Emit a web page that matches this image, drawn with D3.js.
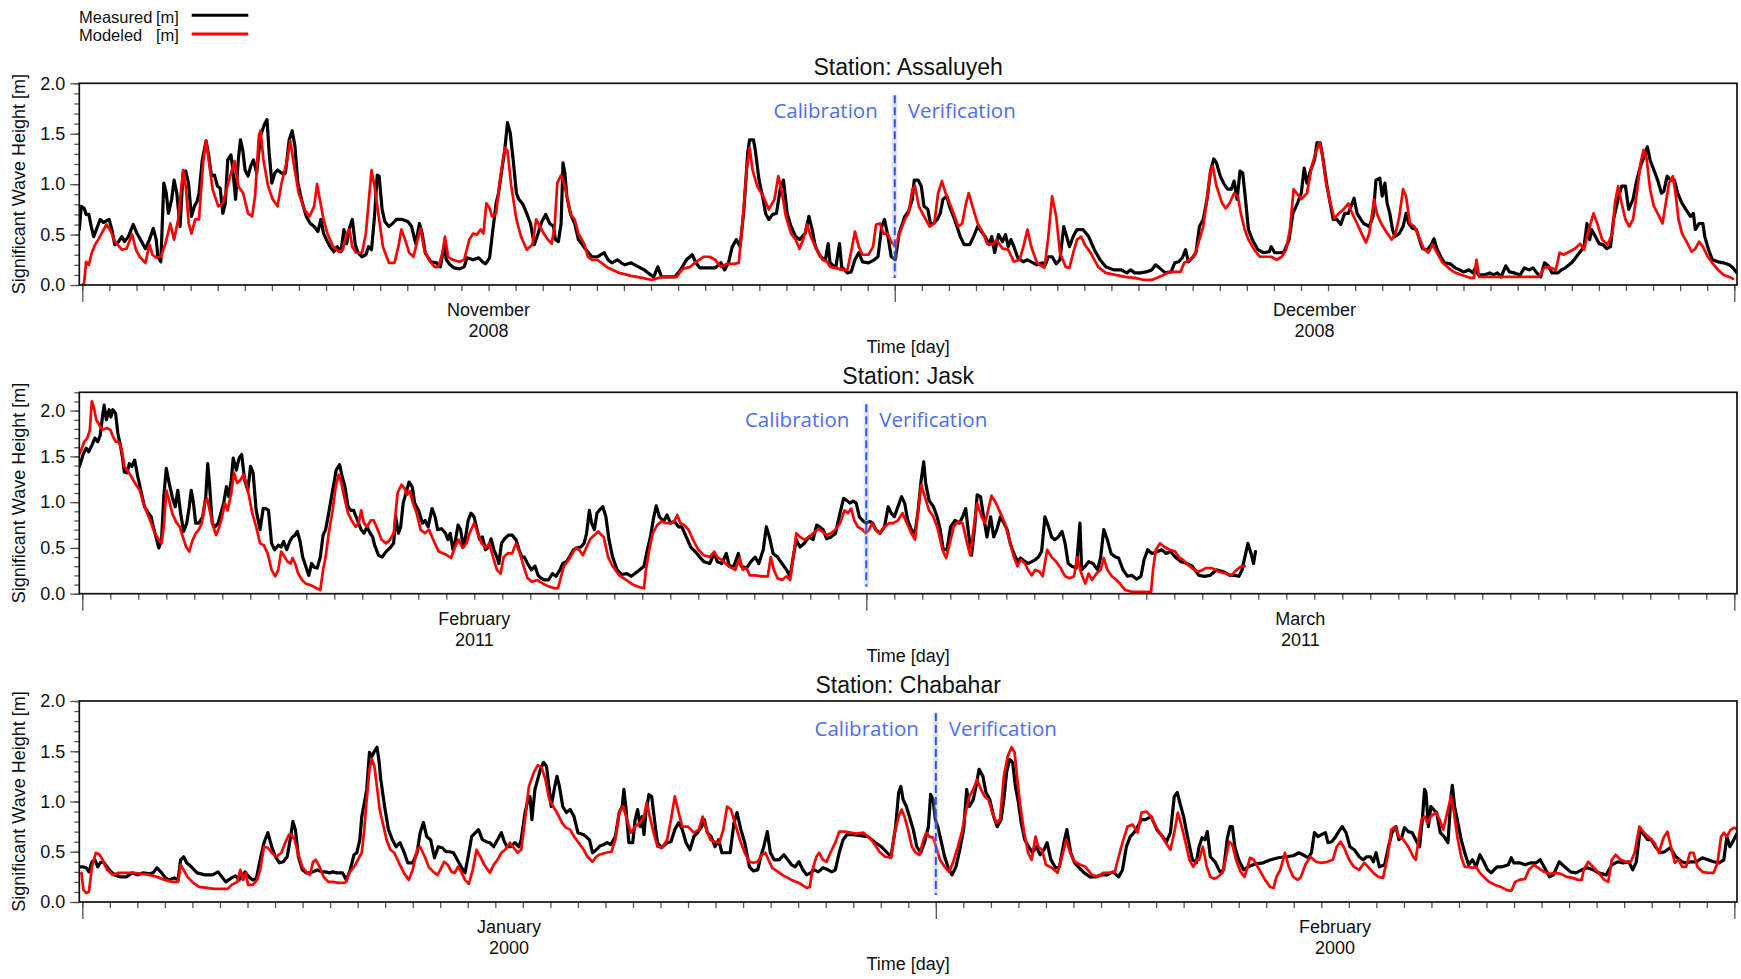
<!DOCTYPE html>
<html>
<head>
<meta charset="utf-8">
<script src="https://cdn.jsdelivr.net/npm/d3@7"></script>
<style>
  html, body { margin: 0; padding: 0; background: #fff; }
  svg { display: block; }
  text { font-family: "Liberation Sans", Arial, sans-serif; fill: #111; }
</style>
</head>
<body>
<svg id="chart" width="1741" height="979"></svg>
<script>
// Significant wave height series: [day offset from series start, Hs in metres]

const assaluyehMeasured = [
[-0.11,0.55],[-0.04,0.78],[0.07,0.76],[0.14,0.70],[0.24,0.70],[0.33,0.58],[0.42,0.48],[0.52,0.55],[0.66,0.65],[0.78,0.62],[0.99,0.65],[1.09,0.55],[1.20,0.40],[1.34,0.43],[1.46,0.48],[1.56,0.43],[1.70,0.48],[1.88,0.60],[2.02,0.51],[2.19,0.43],[2.33,0.36],[2.48,0.45],[2.62,0.56],[2.73,0.45],[2.79,0.28],[2.90,0.23],[3.01,1.01],[3.10,0.91],[3.18,0.71],[3.30,0.85],[3.39,1.04],[3.49,0.91],[3.61,0.58],[3.72,1.11],[3.82,1.13],[3.92,1.01],[4.03,0.68],[4.14,0.78],[4.24,0.83],[4.31,0.91],[4.43,1.24],[4.57,1.43],[4.67,1.28],[4.77,1.08],[4.88,1.09],[4.99,0.98],[5.09,0.96],[5.19,0.71],[5.28,0.81],[5.37,1.24],[5.49,1.29],[5.56,1.14],[5.66,0.85],[5.76,1.24],[5.84,1.44],[5.93,1.33],[6.01,1.14],[6.12,1.08],[6.22,1.18],[6.32,1.24],[6.44,1.11],[6.58,1.48],[6.72,1.59],[6.82,1.64],[6.90,1.31],[7.00,1.01],[7.11,1.11],[7.21,1.14],[7.35,1.11],[7.50,1.11],[7.64,1.44],[7.75,1.53],[7.85,1.38],[7.96,1.01],[8.13,0.81],[8.27,0.68],[8.42,0.61],[8.56,0.58],[8.70,0.53],[8.81,0.65],[8.91,0.51],[9.05,0.43],[9.15,0.38],[9.29,0.33],[9.41,0.38],[9.55,0.33],[9.66,0.55],[9.76,0.41],[9.86,0.56],[9.97,0.65],[10.08,0.40],[10.18,0.32],[10.33,0.28],[10.47,0.30],[10.57,0.38],[10.68,0.35],[10.79,0.68],[10.89,1.09],[10.96,1.08],[11.07,0.75],[11.17,0.63],[11.32,0.58],[11.46,0.61],[11.60,0.65],[11.81,0.65],[12.02,0.63],[12.16,0.58],[12.31,0.41],[12.45,0.61],[12.55,0.51],[12.66,0.32],[12.87,0.23],[13.08,0.22],[13.22,0.18],[13.37,0.40],[13.44,0.25],[13.58,0.20],[13.72,0.17],[13.93,0.16],[14.10,0.18],[14.21,0.27],[14.43,0.25],[14.64,0.27],[14.78,0.23],[14.89,0.21],[15.04,0.27],[15.13,0.48],[15.28,0.81],[15.37,0.91],[15.49,1.14],[15.60,1.34],[15.70,1.61],[15.80,1.51],[15.91,1.24],[16.03,0.91],[16.12,0.85],[16.27,0.80],[16.41,0.71],[16.55,0.61],[16.69,0.40],[16.83,0.51],[16.97,0.63],[17.11,0.70],[17.26,0.61],[17.40,0.58],[17.47,0.45],[17.58,0.43],[17.68,0.61],[17.75,1.21],[17.82,1.11],[17.89,0.88],[18.03,0.70],[18.18,0.61],[18.32,0.45],[18.46,0.40],[18.60,0.35],[18.81,0.28],[19.02,0.28],
[19.27,0.32],[19.41,0.25],[19.55,0.22],[19.76,0.25],[19.90,0.22],[20.04,0.20],[20.26,0.22],[20.54,0.18],[20.75,0.15],[20.89,0.12],[21.10,0.08],[21.25,0.18],[21.39,0.08],[21.60,0.08],[21.88,0.08],[22.09,0.15],[22.31,0.25],[22.52,0.30],[22.66,0.22],[22.80,0.17],[23.09,0.17],[23.37,0.17],[23.58,0.22],[23.72,0.15],[23.86,0.22],[24.00,0.38],[24.15,0.45],[24.29,0.38],[24.43,0.75],[24.57,1.31],[24.64,1.44],[24.78,1.44],[24.85,1.34],[24.99,1.04],[25.14,0.85],[25.23,0.71],[25.35,0.65],[25.49,0.70],[25.63,0.71],[25.77,0.95],[25.89,1.04],[26.03,0.71],[26.17,0.58],[26.34,0.48],[26.48,0.45],[26.69,0.51],[26.83,0.68],[26.95,0.55],[27.07,0.38],[27.26,0.28],[27.44,0.25],[27.54,0.41],[27.61,0.22],[27.82,0.17],[27.96,0.41],[28.04,0.18],[28.25,0.12],[28.39,0.13],[28.53,0.25],[28.67,0.32],[28.81,0.23],[29.03,0.22],[29.24,0.25],[29.38,0.28],[29.52,0.58],[29.62,0.65],[29.73,0.51],[29.87,0.28],[30.02,0.25],[30.16,0.51],[30.37,0.68],[30.51,0.73],[30.65,0.85],[30.72,1.04],[30.86,1.04],[30.98,0.98],[31.08,0.78],[31.22,0.75],[31.32,0.61],[31.43,0.61],[31.57,0.65],[31.68,0.71],[31.78,0.85],[31.92,0.88],[32.02,0.78],[32.21,0.65],[32.42,0.48],[32.56,0.40],[32.77,0.40],[32.91,0.48],[33.06,0.58],[33.20,0.53],[33.34,0.48],[33.48,0.40],[33.58,0.48],[33.69,0.32],[33.83,0.50],[33.98,0.43],[34.09,0.50],[34.19,0.38],[34.29,0.45],[34.40,0.38],[34.54,0.27],[34.75,0.23],[34.90,0.25],[35.11,0.22],[35.25,0.20],[35.46,0.22],[35.56,0.20],[35.67,0.28],[35.81,0.28],[35.96,0.21],[36.10,0.25],[36.24,0.58],[36.35,0.48],[36.45,0.38],[36.59,0.48],[36.73,0.55],[36.95,0.55],[37.16,0.48],[37.37,0.35],[37.58,0.25],[37.79,0.18],[38.08,0.15],[38.36,0.15],[38.57,0.12],[38.71,0.15],[38.86,0.12],[39.07,0.12],[39.28,0.13],[39.49,0.15],[39.63,0.20],[39.77,0.17],[39.99,0.12],[40.20,0.13],[40.34,0.22],[40.48,0.23],[40.62,0.27],[40.74,0.35],[40.84,0.23],[41.02,0.28],[41.12,0.32],
[41.25,0.58],[41.39,0.65],[41.53,0.85],[41.67,1.14],[41.78,1.25],[41.88,1.21],[42.02,1.08],[42.16,1.00],[42.29,0.95],[42.43,0.95],[42.53,1.03],[42.64,0.85],[42.75,1.13],[42.85,1.11],[42.95,0.85],[43.06,0.55],[43.20,0.45],[43.41,0.35],[43.62,0.32],[43.83,0.33],[43.90,0.38],[44.03,0.32],[44.24,0.32],[44.38,0.33],[44.56,0.45],[44.70,0.71],[44.87,0.81],[45.01,0.91],[45.12,1.16],[45.22,1.01],[45.36,1.14],[45.50,1.24],[45.59,1.41],[45.71,1.41],[45.82,1.24],[45.96,0.98],[46.10,0.78],[46.19,0.65],[46.33,0.65],[46.47,0.60],[46.61,0.71],[46.75,0.71],[46.89,0.81],[46.96,0.86],[47.07,0.71],[47.21,0.65],[47.31,0.61],[47.52,0.58],[47.66,0.68],[47.77,1.04],[47.91,1.06],[48.00,0.88],[48.10,1.01],[48.18,0.81],[48.28,0.71],[48.38,0.55],[48.46,0.48],[48.63,0.51],[48.77,0.58],[48.88,0.71],[48.98,0.61],[49.12,0.56],[49.26,0.55],[49.40,0.43],[49.49,0.36],[49.67,0.35],[49.81,0.40],[49.91,0.46],[50.02,0.36],[50.16,0.28],[50.30,0.22],[50.51,0.21],[50.69,0.17],[50.86,0.15],[51.00,0.13],[51.21,0.15],[51.34,0.12],[51.44,0.17],[51.55,0.10],[51.76,0.10],[51.97,0.12],[52.11,0.10],[52.25,0.12],[52.39,0.08],[52.56,0.19],[52.70,0.13],[52.88,0.12],[53.09,0.10],[53.25,0.17],[53.43,0.15],[53.57,0.17],[53.71,0.12],[53.85,0.08],[53.99,0.22],[54.13,0.19],[54.27,0.12],[54.48,0.12],[54.62,0.15],[54.76,0.17],[54.90,0.20],[55.03,0.23],[55.17,0.28],[55.31,0.33],[55.45,0.38],[55.56,0.61],[55.66,0.45],[55.73,0.55],[55.87,0.48],[56.01,0.41],[56.15,0.40],[56.29,0.36],[56.43,0.38],[56.54,0.65],[56.71,0.85],[56.84,0.98],[56.98,0.98],[57.10,0.75],[57.26,0.85],[57.40,1.04],[57.54,1.18],[57.68,1.28],[57.79,1.37],[57.89,1.24],[58.03,1.14],[58.17,1.04],[58.31,0.91],[58.40,0.93],[58.52,1.08],[58.65,1.04],[58.79,1.04],[58.91,0.91],[59.07,0.81],[59.21,0.75],[59.38,0.68],[59.49,0.71],[59.56,0.55],[59.70,0.61],[59.84,0.61],[59.91,0.48],[60.05,0.35],[60.19,0.25],[60.40,0.23],[60.60,0.22],[60.81,0.20],[60.95,0.17],[61.09,0.12]
];

const assaluyehModeled = [
[0.00,0.00],[0.07,0.02],[0.14,0.23],[0.24,0.20],[0.35,0.32],[0.47,0.40],[0.61,0.46],[0.75,0.53],[0.89,0.60],[1.06,0.53],[1.20,0.43],[1.46,0.35],[1.63,0.36],[1.84,0.50],[1.98,0.35],[2.12,0.28],[2.33,0.22],[2.48,0.40],[2.59,0.30],[2.73,0.27],[2.90,0.28],[3.07,0.41],[3.25,0.61],[3.39,0.45],[3.54,0.65],[3.72,1.14],[3.82,0.98],[3.93,0.61],[4.03,0.51],[4.17,0.65],[4.31,0.65],[4.46,1.21],[4.57,1.43],[4.67,1.24],[4.81,0.95],[5.02,0.78],[5.19,0.81],[5.42,1.04],[5.62,1.23],[5.76,0.98],[5.94,0.91],[6.12,0.71],[6.27,0.68],[6.38,0.88],[6.52,1.48],[6.58,1.53],[6.69,1.24],[6.86,0.98],[7.03,0.85],[7.21,0.78],[7.35,1.00],[7.54,1.21],[7.68,1.43],[7.82,1.18],[7.99,0.91],[8.20,0.75],[8.39,0.68],[8.56,0.78],[8.67,1.00],[8.77,0.85],[8.91,0.65],[9.05,0.51],[9.26,0.38],[9.48,0.33],[9.62,0.35],[9.76,0.51],[9.86,0.55],[9.97,0.38],[10.11,0.32],[10.33,0.32],[10.47,0.51],[10.57,0.81],[10.68,1.14],[10.79,0.98],[10.96,0.65],[11.10,0.38],[11.32,0.22],[11.53,0.22],[11.67,0.38],[11.78,0.55],[11.92,0.45],[12.07,0.32],[12.23,0.28],[12.38,0.45],[12.49,0.56],[12.63,0.35],[12.80,0.25],[13.01,0.18],[13.15,0.18],[13.30,0.32],[13.39,0.48],[13.51,0.28],[13.68,0.25],[13.93,0.23],[14.10,0.25],[14.29,0.45],[14.43,0.51],[14.57,0.50],[14.71,0.55],[14.81,0.51],[14.92,0.81],[15.04,0.76],[15.13,0.68],[15.28,0.71],[15.42,1.04],[15.60,1.36],[15.70,1.33],[15.84,0.98],[16.03,0.65],[16.20,0.48],[16.41,0.35],[16.62,0.40],[16.76,0.65],[16.90,0.58],[17.04,0.51],[17.19,0.45],[17.33,0.41],[17.44,0.58],[17.54,1.01],[17.68,1.09],[17.82,0.98],[18.03,0.70],[18.18,0.65],[18.32,0.51],[18.53,0.41],[18.67,0.28],[18.81,0.25],[19.02,0.25],
[19.41,0.17],[19.83,0.12],[20.26,0.09],[20.68,0.07],[21.03,0.05],[21.39,0.08],[21.95,0.08],[22.17,0.16],[22.45,0.18],[22.66,0.23],[22.94,0.28],[23.16,0.28],[23.37,0.25],[23.58,0.18],[23.79,0.21],[24.07,0.21],[24.24,0.22],[24.39,0.65],[24.53,1.14],[24.64,1.36],[24.75,1.14],[24.92,0.98],[25.14,0.88],[25.35,0.75],[25.56,0.85],[25.70,1.08],[25.81,0.95],[25.98,0.68],[26.17,0.51],[26.34,0.45],[26.48,0.36],[26.62,0.45],[26.76,0.60],[26.90,0.48],[27.12,0.35],[27.33,0.25],[27.50,0.23],[27.61,0.18],[27.82,0.17],[28.04,0.15],[28.25,0.15],[28.39,0.33],[28.53,0.53],[28.67,0.38],[28.81,0.30],[29.03,0.30],[29.20,0.38],[29.31,0.60],[29.45,0.61],[29.59,0.51],[29.73,0.51],[29.87,0.43],[30.02,0.38],[30.16,0.50],[30.37,0.65],[30.51,0.71],[30.65,0.95],[30.75,0.98],[30.89,0.78],[31.08,0.68],[31.29,0.58],[31.46,0.61],[31.60,0.91],[31.74,1.03],[31.88,0.91],[32.07,0.78],[32.21,0.68],[32.35,0.58],[32.49,0.61],[32.63,0.81],[32.73,0.91],[32.87,0.78],[33.06,0.61],[33.27,0.51],[33.41,0.41],[33.62,0.40],[33.76,0.45],[33.98,0.36],[34.19,0.35],[34.40,0.23],[34.61,0.25],[34.75,0.38],[34.90,0.55],[35.04,0.38],[35.25,0.22],[35.53,0.17],[35.67,0.48],[35.81,0.88],[35.96,0.68],[36.10,0.32],[36.31,0.18],[36.45,0.17],[36.59,0.32],[36.73,0.45],[36.88,0.48],[37.02,0.40],[37.23,0.32],[37.51,0.18],[37.79,0.12],[38.15,0.10],[38.50,0.08],[38.86,0.07],[39.21,0.05],[39.49,0.05],
[39.93,0.10],[40.14,0.13],[40.55,0.13],[40.69,0.22],[40.90,0.25],[41.08,0.30],[41.25,0.45],[41.39,0.58],[41.53,0.85],[41.64,1.11],[41.74,1.18],[41.88,0.98],[42.09,0.81],[42.22,0.76],[42.36,0.81],[42.53,0.91],[42.67,0.88],[42.78,0.71],[42.92,0.55],[43.06,0.45],[43.27,0.35],[43.48,0.28],[43.69,0.28],[43.90,0.28],[44.10,0.25],[44.29,0.28],[44.45,0.35],[44.59,0.55],[44.73,0.95],[44.87,0.90],[45.01,0.85],[45.22,0.91],[45.40,1.18],[45.54,1.31],[45.68,1.41],[45.78,1.31],[45.91,1.04],[46.05,0.85],[46.23,0.66],[46.40,0.71],[46.57,0.75],[46.75,0.81],[46.89,0.71],[47.07,0.61],[47.24,0.51],[47.40,0.42],[47.52,0.51],[47.70,0.85],[47.80,0.71],[47.96,0.61],[48.14,0.53],[48.35,0.45],[48.49,0.51],[48.63,0.68],[48.77,0.95],[48.88,0.88],[49.02,0.61],[49.19,0.58],[49.35,0.48],[49.53,0.36],[49.70,0.32],[49.86,0.40],[50.02,0.32],[50.23,0.22],[50.44,0.17],[50.65,0.13],[50.93,0.10],[51.27,0.07],[51.39,0.07],[51.48,0.25],[51.58,0.08],[51.83,0.08],[53.78,0.08],[53.99,0.17],[54.13,0.18],[54.41,0.15],[54.55,0.32],[54.69,0.30],[54.90,0.33],[55.11,0.36],[55.31,0.41],[55.45,0.35],[55.59,0.51],[55.80,0.71],[55.94,0.61],[56.12,0.45],[56.32,0.40],[56.50,0.51],[56.59,0.81],[56.71,0.98],[56.84,0.81],[56.98,0.65],[57.12,0.58],[57.26,0.65],[57.40,0.91],[57.54,1.21],[57.65,1.34],[57.75,1.28],[57.89,0.95],[58.03,0.78],[58.17,0.71],[58.35,0.61],[58.45,0.78],[58.59,1.01],[58.73,1.08],[58.83,0.91],[58.94,0.65],[59.07,0.51],[59.24,0.43],[59.42,0.33],[59.56,0.36],[59.70,0.43],[59.84,0.38],[60.02,0.28],[60.19,0.22],[60.40,0.15],[60.61,0.10],[60.82,0.08],[60.95,0.06]
];

const jaskMeasured = [
[-0.14,1.37],[-0.07,1.42],[0.04,1.53],[0.14,1.59],[0.23,1.55],[0.34,1.62],[0.45,1.70],[0.55,1.66],[0.64,1.73],[0.72,1.93],[0.78,2.06],[0.86,1.90],[0.96,2.01],[1.02,1.93],[1.09,2.01],[1.19,1.97],[1.27,1.75],[1.36,1.62],[1.43,1.50],[1.50,1.33],[1.60,1.32],[1.68,1.42],[1.77,1.39],[1.87,1.46],[1.98,1.28],[2.09,1.13],[2.22,0.95],[2.36,0.88],[2.46,0.84],[2.52,0.75],[2.63,0.62],[2.73,0.50],[2.83,0.59],[2.91,1.06],[3.00,1.37],[3.10,1.21],[3.21,1.06],[3.32,0.95],[3.41,1.13],[3.51,0.88],[3.62,0.68],[3.73,0.77],[3.82,0.95],[3.89,1.13],[3.97,0.99],[4.05,0.77],[4.16,0.77],[4.30,0.84],[4.41,1.06],[4.48,1.42],[4.54,1.21],[4.64,0.77],[4.74,0.73],[4.85,0.77],[4.95,0.88],[5.05,0.99],[5.15,1.17],[5.23,1.06],[5.32,1.24],[5.39,1.48],[5.50,1.35],[5.60,1.48],[5.69,1.52],[5.80,1.24],[5.91,1.13],[6.01,1.39],[6.10,1.32],[6.21,0.91],[6.35,0.70],[6.46,0.93],[6.55,0.93],[6.65,0.91],[6.76,0.55],[6.87,0.48],[7.00,0.53],[7.10,0.51],[7.19,0.57],[7.30,0.48],[7.41,0.57],[7.51,0.62],[7.60,0.64],[7.68,0.68],[7.78,0.57],[7.87,0.40],[7.98,0.30],[8.09,0.20],[8.19,0.33],[8.28,0.29],[8.39,0.28],[8.50,0.40],[8.60,0.64],[8.69,0.70],[8.80,0.88],[8.94,1.13],[9.07,1.35],[9.19,1.41],[9.28,1.28],[9.38,1.17],[9.49,0.95],[9.59,0.91],[9.69,0.91],[9.83,0.80],[9.96,0.70],[10.06,0.66],[10.17,0.73],[10.28,0.66],[10.37,0.62],[10.44,0.53],[10.58,0.42],[10.71,0.40],[10.85,0.46],[10.99,0.50],[11.12,0.55],[11.19,0.84],[11.29,0.66],[11.37,0.73],[11.46,0.99],[11.56,1.10],[11.67,1.22],[11.78,1.17],[11.87,0.99],[12.01,0.91],[12.15,0.77],[12.24,0.80],[12.35,0.73],[12.49,0.93],[12.60,0.84],[12.69,0.70],[12.83,0.71],[12.97,0.66],[13.06,0.59],[13.14,0.66],[13.24,0.48],[13.33,0.59],[13.42,0.75],[13.51,0.70],[13.61,0.51],[13.69,0.62],[13.78,0.80],[13.88,0.88],[13.99,0.84],[14.10,0.70],[14.19,0.59],[14.29,0.62],[14.40,0.48],[14.51,0.51],[14.60,0.60],[14.70,0.48],[14.81,0.40],[14.88,0.33],[14.97,0.55],[15.08,0.60],[15.22,0.64],[15.35,0.64],[15.49,0.59],[15.60,0.48],[15.70,0.40],[15.79,0.40],[15.90,0.33],[16.04,0.26],[16.17,0.30],[16.28,0.20],[16.38,0.17],[16.51,0.15],[16.65,0.15],[16.79,0.22],[16.92,0.19],[17.06,0.26],[17.16,0.33],[17.29,0.35],[17.40,0.40],[17.54,0.48],[17.67,0.50],[17.81,0.51],[17.92,0.55],[18.01,0.66],[18.11,0.91],[18.19,0.77],[18.29,0.70],[18.38,0.88],
[18.46,0.91],[18.59,0.95],[18.70,0.84],[18.81,0.59],[18.94,0.40],[19.10,0.26],[19.26,0.21],[19.45,0.22],[19.61,0.19],[19.74,0.22],[19.90,0.26],[20.06,0.30],[20.18,0.48],[20.29,0.62],[20.41,0.84],[20.50,0.96],[20.61,0.84],[20.77,0.79],[20.88,0.86],[21.01,0.77],[21.14,0.79],[21.30,0.73],[21.41,0.73],[21.57,0.62],[21.73,0.51],[21.89,0.46],[22.05,0.40],[22.20,0.35],[22.41,0.33],[22.57,0.44],[22.68,0.35],[22.84,0.33],[23.00,0.44],[23.11,0.30],[23.27,0.30],[23.43,0.44],[23.53,0.30],[23.72,0.28],[23.88,0.35],[24.03,0.40],[24.16,0.33],[24.32,0.48],[24.43,0.73],[24.54,0.62],[24.67,0.44],[24.83,0.40],[24.99,0.33],[25.15,0.26],[25.28,0.19],[25.39,0.40],[25.50,0.59],[25.63,0.51],[25.79,0.55],[25.95,0.62],[26.10,0.59],[26.23,0.75],[26.34,0.73],[26.46,0.70],[26.58,0.60],[26.74,0.62],[26.90,0.66],[27.06,0.88],[27.19,1.04],[27.30,1.02],[27.41,0.99],[27.53,1.01],[27.64,0.99],[27.75,0.84],[27.87,0.80],[27.99,0.77],[28.12,0.79],[28.23,0.77],[28.34,0.70],[28.49,0.66],[28.65,0.73],[28.78,0.95],[28.89,0.88],[29.00,0.84],[29.13,0.95],[29.26,1.06],[29.37,0.99],[29.48,0.80],[29.61,0.70],[29.74,0.66],[29.85,0.91],[29.96,1.24],[30.05,1.44],[30.12,1.21],[30.24,1.02],[30.40,0.95],[30.53,0.84],[30.64,0.70],[30.75,0.48],[30.88,0.48],[31.01,0.73],[31.17,0.80],[31.33,0.77],[31.44,0.84],[31.55,0.93],[31.65,0.66],[31.76,0.42],[31.87,0.73],[31.96,1.08],[32.08,1.06],[32.19,0.84],[32.31,0.62],[32.44,0.84],[32.55,0.62],[32.66,0.70],[32.79,0.84],[32.92,0.77],[33.03,0.70],[33.14,0.55],[33.27,0.44],[33.40,0.35],[33.51,0.39],[33.67,0.35],[33.78,0.33],[33.91,0.35],[34.03,0.37],[34.15,0.40],[34.26,0.46],[34.38,0.84],[34.51,0.73],[34.62,0.62],[34.73,0.59],[34.86,0.62],[34.99,0.68],[35.10,0.55],[35.21,0.33],[35.34,0.30],[35.50,0.28],[35.63,0.77],[35.69,0.26],[35.82,0.30],[35.94,0.35],[36.10,0.33],[36.26,0.26],[36.37,0.40],[36.48,0.70],[36.61,0.59],[36.74,0.44],[36.90,0.40],[37.01,0.39],[37.17,0.26],[37.33,0.19],[37.49,0.20],[37.65,0.16],[37.81,0.19],[37.92,0.37],[38.05,0.48],[38.20,0.44],[38.40,0.46],[38.55,0.48],[38.71,0.44],[38.87,0.46],[39.03,0.40],[39.24,0.35],[39.45,0.33],[39.64,0.30],[39.88,0.20],[40.08,0.19],[40.27,0.20],[40.51,0.26],[40.75,0.24],[40.99,0.20],[41.15,0.20],[41.31,0.19],[41.42,0.26],[41.52,0.40],[41.63,0.55],[41.74,0.44],[41.83,0.33],[41.90,0.46]
];

const jaskModeled = [
[-0.14,1.50],[-0.04,1.57],[0.07,1.66],[0.18,1.70],[0.27,1.79],[0.34,2.10],[0.41,2.04],[0.50,1.90],[0.61,1.84],[0.72,1.79],[0.89,1.81],[1.00,1.79],[1.09,1.72],[1.19,1.66],[1.30,1.66],[1.41,1.57],[1.50,1.39],[1.60,1.35],[1.71,1.30],[1.82,1.24],[1.92,1.19],[2.05,1.13],[2.18,0.99],[2.32,0.88],[2.46,0.77],[2.59,0.66],[2.73,0.59],[2.83,0.55],[2.91,0.73],[3.00,1.13],[3.10,1.02],[3.21,0.88],[3.34,0.79],[3.48,0.73],[3.59,0.62],[3.71,0.51],[3.82,0.46],[3.92,0.57],[4.05,0.66],[4.16,0.70],[4.27,0.77],[4.37,0.99],[4.46,1.04],[4.57,0.88],[4.68,0.73],[4.78,0.64],[4.87,0.71],[4.98,0.82],[5.09,0.99],[5.19,0.91],[5.32,1.10],[5.42,1.32],[5.53,1.21],[5.64,1.24],[5.76,1.30],[5.87,1.19],[5.96,1.06],[6.07,0.88],[6.21,0.73],[6.35,0.55],[6.48,0.53],[6.62,0.44],[6.76,0.26],[6.89,0.19],[7.00,0.26],[7.10,0.46],[7.23,0.40],[7.33,0.35],[7.44,0.33],[7.51,0.39],[7.60,0.33],[7.71,0.22],[7.85,0.15],[7.98,0.11],[8.19,0.09],[8.37,0.06],[8.50,0.04],[8.60,0.26],[8.69,0.40],[8.80,0.66],[8.94,0.91],[9.05,1.17],[9.16,1.30],[9.25,1.21],[9.35,1.06],[9.49,0.88],[9.62,0.80],[9.76,0.73],[9.87,0.77],[9.96,0.91],[10.06,0.77],[10.17,0.73],[10.30,0.80],[10.41,0.80],[10.55,0.70],[10.69,0.59],[10.85,0.55],[10.99,0.59],[11.12,0.66],[11.26,1.10],[11.40,1.19],[11.51,1.15],[11.60,1.08],[11.70,1.12],[11.81,0.99],[11.94,0.88],[12.08,0.70],[12.24,0.66],[12.38,0.70],[12.56,0.57],[12.73,0.46],[12.90,0.44],[13.03,0.42],[13.17,0.39],[13.31,0.51],[13.44,0.59],[13.58,0.50],[13.72,0.55],[13.83,0.66],[13.99,0.77],[14.13,0.66],[14.26,0.55],[14.40,0.50],[14.54,0.55],[14.67,0.40],[14.81,0.26],[14.94,0.22],[15.05,0.40],[15.19,0.44],[15.35,0.44],[15.49,0.55],[15.63,0.44],[15.76,0.30],[15.90,0.17],[16.06,0.13],[16.24,0.15],[16.45,0.11],[16.65,0.08],[16.86,0.06],[16.99,0.06],[17.10,0.19],[17.20,0.30],[17.33,0.35],[17.47,0.42],[17.61,0.50],[17.74,0.48],[17.88,0.42],[18.01,0.51],[18.15,0.60],[18.29,0.64],[18.42,0.68],
[18.62,0.62],[18.78,0.40],[18.94,0.30],[19.18,0.20],[19.42,0.15],[19.66,0.10],[19.90,0.07],[20.06,0.06],[20.13,0.26],[20.25,0.48],[20.37,0.66],[20.53,0.75],[20.69,0.79],[20.85,0.77],[21.01,0.77],[21.14,0.79],[21.25,0.86],[21.36,0.77],[21.49,0.75],[21.65,0.70],[21.81,0.59],[22.00,0.48],[22.20,0.42],[22.41,0.40],[22.57,0.46],[22.68,0.40],[22.84,0.37],[23.08,0.30],[23.32,0.26],[23.48,0.39],[23.59,0.26],[23.72,0.28],[23.84,0.20],[24.03,0.20],[24.27,0.19],[24.48,0.19],[24.59,0.40],[24.70,0.26],[24.83,0.17],[24.99,0.15],[25.15,0.19],[25.28,0.15],[25.39,0.40],[25.50,0.66],[25.63,0.62],[25.79,0.59],[25.95,0.62],[26.10,0.66],[26.30,0.71],[26.42,0.68],[26.58,0.64],[26.74,0.66],[26.90,0.70],[27.06,0.77],[27.22,0.91],[27.35,0.88],[27.46,0.93],[27.57,0.80],[27.70,0.73],[27.86,0.70],[27.98,0.66],[28.10,0.70],[28.21,0.77],[28.33,0.70],[28.46,0.66],[28.65,0.73],[28.81,0.77],[28.97,0.77],[29.13,0.80],[29.29,0.88],[29.45,0.77],[29.61,0.66],[29.74,0.59],[29.85,0.91],[29.96,1.19],[30.09,1.06],[30.24,0.91],[30.40,0.84],[30.56,0.70],[30.72,0.48],[30.85,0.39],[30.98,0.55],[31.12,0.73],[31.28,0.79],[31.44,0.77],[31.60,0.55],[31.71,0.42],[31.84,0.73],[31.96,0.99],[32.12,0.84],[32.24,0.77],[32.35,0.91],[32.47,1.07],[32.63,0.99],[32.79,0.88],[32.95,0.77],[33.11,0.59],[33.27,0.40],[33.40,0.30],[33.51,0.37],[33.67,0.33],[33.78,0.26],[33.91,0.20],[34.03,0.26],[34.19,0.24],[34.30,0.19],[34.46,0.48],[34.62,0.40],[34.78,0.35],[34.94,0.28],[35.10,0.19],[35.26,0.17],[35.42,0.19],[35.53,0.40],[35.66,0.24],[35.82,0.11],[35.94,0.22],[36.06,0.15],[36.22,0.22],[36.37,0.26],[36.48,0.39],[36.61,0.26],[36.77,0.19],[36.93,0.15],[37.09,0.10],[37.25,0.04],[37.49,0.02],[37.81,0.02],[38.17,0.02],[38.24,0.26],[38.34,0.48],[38.49,0.55],[38.65,0.51],[38.84,0.48],[39.03,0.46],[39.16,0.40],[39.32,0.37],[39.51,0.31],[39.72,0.26],[39.88,0.24],[40.12,0.28],[40.35,0.28],[40.59,0.24],[40.83,0.22],[41.04,0.20],[41.23,0.26],[41.39,0.30],[41.52,0.30]
];

const chabaharMeasured = [
[-0.14,0.35],[0.00,0.35],[0.14,0.34],[0.24,0.30],[0.35,0.40],[0.46,0.42],[0.56,0.35],[0.65,0.39],[0.76,0.40],[0.90,0.35],[1.04,0.30],[1.18,0.27],[1.39,0.25],[1.60,0.25],[1.81,0.29],[2.02,0.27],[2.22,0.29],[2.43,0.28],[2.57,0.29],[2.71,0.34],[2.85,0.30],[3.02,0.24],[3.16,0.22],[3.34,0.24],[3.48,0.22],[3.57,0.42],[3.68,0.45],[3.79,0.39],[3.96,0.35],[4.17,0.29],[4.45,0.27],[4.73,0.27],[4.93,0.30],[5.07,0.25],[5.21,0.20],[5.42,0.24],[5.56,0.26],[5.70,0.22],[5.91,0.30],[6.05,0.25],[6.19,0.22],[6.32,0.23],[6.46,0.42],[6.60,0.59],[6.74,0.69],[6.88,0.55],[7.02,0.45],[7.16,0.39],[7.30,0.40],[7.44,0.45],[7.55,0.62],[7.65,0.80],[7.74,0.72],[7.85,0.45],[7.99,0.32],[8.13,0.29],[8.27,0.29],[8.38,0.30],[8.55,0.32],[8.69,0.30],[8.83,0.30],[8.97,0.29],[9.10,0.30],[9.24,0.29],[9.45,0.29],[9.59,0.22],[9.73,0.32],[9.87,0.47],[9.97,0.49],[10.08,0.62],[10.15,0.85],[10.22,0.95],[10.33,1.12],[10.43,1.49],[10.52,1.45],[10.61,1.50],[10.70,1.54],[10.77,1.42],[10.84,1.22],[10.98,0.95],[11.12,0.72],[11.26,0.62],[11.40,0.55],[11.54,0.59],[11.68,0.50],[11.82,0.39],[12.00,0.39],[12.16,0.49],[12.27,0.69],[12.39,0.79],[12.51,0.65],[12.65,0.62],[12.79,0.44],[12.93,0.55],[13.07,0.54],[13.21,0.50],[13.34,0.50],[13.48,0.49],[13.62,0.42],[13.76,0.35],[13.90,0.29],[14.04,0.49],[14.14,0.65],[14.28,0.69],[14.39,0.72],[14.53,0.62],[14.67,0.60],[14.80,0.59],[14.94,0.55],[15.08,0.62],[15.22,0.69],[15.33,0.60],[15.43,0.55],[15.57,0.55],[15.71,0.59],[15.85,0.55],[15.94,0.62],[16.08,0.89],[16.19,1.02],[16.26,1.05],[16.33,0.82],[16.44,1.12],[16.54,1.22],[16.64,1.32],[16.75,1.39],[16.86,1.35],[16.96,1.12],[17.03,0.95],[17.14,1.12],[17.24,1.25],[17.33,1.15],[17.45,0.95],[17.58,0.89],[17.72,0.92],[17.86,0.85],[18.00,0.69],[18.21,0.67],[18.42,0.62],[18.53,0.49],[18.67,0.52],
[18.81,0.56],[18.94,0.57],[19.06,0.59],[19.19,0.57],[19.36,0.65],[19.50,0.89],[19.61,0.95],[19.67,1.12],[19.75,0.92],[19.85,0.59],[19.99,0.59],[20.08,0.82],[20.17,0.92],[20.26,0.75],[20.33,0.85],[20.40,0.67],[20.47,0.89],[20.58,1.07],[20.68,1.05],[20.78,0.82],[20.89,0.59],[21.03,0.54],[21.24,0.59],[21.38,0.60],[21.52,0.72],[21.66,0.79],[21.79,0.72],[21.93,0.59],[22.07,0.52],[22.21,0.65],[22.35,0.69],[22.49,0.75],[22.59,0.82],[22.70,0.69],[22.84,0.65],[22.98,0.55],[23.11,0.62],[23.23,0.49],[23.39,0.49],[23.53,0.49],[23.67,0.79],[23.78,0.89],[23.92,0.72],[24.06,0.59],[24.23,0.35],[24.37,0.31],[24.53,0.32],[24.64,0.45],[24.75,0.55],[24.88,0.70],[24.99,0.49],[25.13,0.42],[25.31,0.42],[25.48,0.47],[25.62,0.42],[25.76,0.37],[25.89,0.35],[26.03,0.40],[26.17,0.32],[26.31,0.27],[26.45,0.29],[26.59,0.32],[26.73,0.30],[26.90,0.34],[27.08,0.32],[27.22,0.30],[27.35,0.32],[27.49,0.49],[27.63,0.62],[27.77,0.67],[27.98,0.67],[28.26,0.66],[28.54,0.65],[28.81,0.59],[29.02,0.55],[29.20,0.50],[29.37,0.45],[29.54,0.75],[29.65,1.09],[29.73,1.15],[29.81,1.02],[29.93,0.95],[30.04,0.85],[30.18,0.72],[30.31,0.55],[30.45,0.49],[30.59,0.59],[30.73,0.75],[30.81,1.07],[30.90,1.02],[30.98,0.82],[31.07,0.75],[31.18,0.62],[31.32,0.45],[31.45,0.34],[31.59,0.27],[31.73,0.35],[31.87,0.52],[32.01,0.72],[32.12,1.12],[32.22,0.95],[32.36,1.02],[32.46,1.15],[32.57,1.32],[32.71,1.25],[32.82,1.09],[32.96,1.02],[33.10,0.85],[33.23,0.75],[33.37,0.82],[33.47,1.02],[33.57,1.29],[33.68,1.42],[33.79,1.39],[33.89,1.15],[34.00,0.99],[34.10,0.79],[34.23,0.62],[34.37,0.55],[34.51,0.49],[34.65,0.55],[34.79,0.47],[34.93,0.52],[35.04,0.59],[35.18,0.42],[35.35,0.34],[35.49,0.35],[35.65,0.59],[35.76,0.72],[35.90,0.49],[36.04,0.39],[36.21,0.34],[36.39,0.29],[36.60,0.25],[36.81,0.25],[37.01,0.27],[37.22,0.27],[37.43,0.30],[37.64,0.25],[37.78,0.32],[37.92,0.55],[38.06,0.65],[38.20,0.69],[38.33,0.75],[38.47,0.82],[38.61,0.82],[38.82,0.85],[39.03,0.72],[39.24,0.65],[39.38,0.60],[39.52,0.69],[39.66,1.05],[39.77,1.09],[39.86,0.99],[40.00,0.85],[40.14,0.65],[40.32,0.42],[40.46,0.39],
[40.56,0.55],[40.67,0.64],[40.77,0.62],[40.86,0.70],[40.97,0.45],[41.14,0.40],[41.32,0.30],[41.45,0.32],[41.59,0.64],[41.69,0.75],[41.77,0.75],[41.86,0.55],[42.00,0.42],[42.18,0.32],[42.34,0.35],[42.62,0.38],[42.89,0.39],[43.16,0.42],[43.44,0.44],[43.71,0.45],[43.98,0.46],[44.19,0.49],[44.33,0.47],[44.53,0.44],[44.64,0.49],[44.75,0.69],[44.88,0.65],[45.01,0.67],[45.15,0.69],[45.24,0.59],[45.38,0.60],[45.52,0.65],[45.63,0.70],[45.76,0.75],[45.90,0.69],[46.04,0.55],[46.20,0.52],[46.38,0.45],[46.52,0.42],[46.65,0.45],[46.79,0.45],[46.89,0.40],[46.99,0.49],[47.11,0.35],[47.30,0.37],[47.44,0.55],[47.57,0.69],[47.71,0.75],[47.82,0.62],[47.93,0.65],[48.02,0.74],[48.16,0.70],[48.30,0.69],[48.43,0.62],[48.57,0.55],[48.67,0.82],[48.75,1.12],[48.80,1.09],[48.89,0.75],[48.98,0.95],[49.08,0.92],[49.19,0.89],[49.32,0.69],[49.46,0.65],[49.60,0.59],[49.71,1.05],[49.76,1.16],[49.84,0.95],[49.94,0.82],[50.08,0.62],[50.21,0.49],[50.35,0.37],[50.49,0.42],[50.62,0.35],[50.76,0.47],[50.90,0.40],[51.04,0.32],[51.17,0.29],[51.38,0.35],[51.58,0.35],[51.79,0.37],[51.90,0.44],[51.99,0.39],[52.20,0.39],[52.40,0.37],[52.61,0.39],[52.81,0.39],[52.95,0.42],[53.09,0.35],[53.29,0.25],[53.43,0.27],[53.64,0.40],[53.84,0.35],[54.05,0.30],[54.25,0.29],[54.46,0.32],[54.66,0.34],[54.87,0.32],[55.07,0.29],[55.35,0.27],[55.55,0.37],[55.76,0.40],[55.96,0.39],[56.17,0.40],[56.31,0.32],[56.44,0.40],[56.58,0.72],[56.72,0.67],[56.85,0.62],[56.99,0.62],[57.13,0.55],[57.33,0.49],[57.47,0.50],[57.67,0.54],[57.88,0.45],[58.09,0.40],[58.22,0.39],[58.43,0.40],[58.63,0.40],[58.84,0.44],[59.04,0.42],[59.25,0.40],[59.45,0.39],[59.62,0.42],[59.73,0.65],[59.84,0.55],[59.98,0.62],[60.11,0.69]
];

const chabaharModeled = [
[-0.03,0.29],[0.04,0.12],[0.14,0.09],[0.24,0.10],[0.35,0.35],[0.49,0.49],[0.63,0.47],[0.74,0.42],[0.90,0.32],[1.11,0.27],[1.32,0.29],[1.60,0.29],[1.88,0.29],[2.15,0.28],[2.43,0.27],[2.71,0.25],[2.99,0.22],[3.27,0.20],[3.48,0.20],[3.57,0.37],[3.68,0.32],[3.82,0.25],[4.03,0.19],[4.24,0.15],[4.52,0.14],[4.80,0.13],[5.07,0.13],[5.28,0.13],[5.42,0.17],[5.63,0.20],[5.74,0.32],[5.84,0.22],[5.94,0.29],[6.02,0.17],[6.19,0.17],[6.35,0.22],[6.46,0.32],[6.60,0.55],[6.74,0.54],[6.88,0.49],[7.05,0.45],[7.23,0.49],[7.37,0.59],[7.51,0.67],[7.60,0.67],[7.71,0.62],[7.83,0.49],[7.99,0.35],[8.13,0.30],[8.27,0.27],[8.38,0.40],[8.48,0.42],[8.62,0.35],[8.76,0.25],[8.94,0.20],[9.10,0.20],[9.31,0.19],[9.49,0.19],[9.59,0.20],[9.69,0.29],[9.87,0.35],[10.01,0.42],[10.15,0.49],[10.24,0.72],[10.33,1.02],[10.43,1.32],[10.52,1.42],[10.61,1.35],[10.70,1.15],[10.80,0.92],[10.91,0.79],[11.05,0.62],[11.19,0.52],[11.33,0.49],[11.50,0.39],[11.68,0.29],[11.86,0.22],[12.00,0.32],[12.16,0.52],[12.27,0.55],[12.44,0.45],[12.58,0.35],[12.75,0.30],[12.90,0.27],[13.00,0.32],[13.14,0.40],[13.27,0.37],[13.41,0.30],[13.53,0.29],[13.64,0.35],[13.76,0.30],[13.90,0.22],[14.04,0.18],[14.18,0.32],[14.32,0.52],[14.46,0.45],[14.60,0.37],[14.80,0.29],[14.94,0.37],[15.08,0.42],[15.22,0.49],[15.36,0.52],[15.53,0.59],[15.64,0.55],[15.81,0.49],[15.94,0.52],[16.08,0.82],[16.22,1.15],[16.40,1.29],[16.54,1.36],[16.68,1.34],[16.82,1.22],[16.96,1.02],[17.10,0.95],[17.24,0.89],[17.42,0.79],[17.56,0.74],[17.72,0.72],[17.86,0.65],[18.03,0.59],[18.21,0.52],[18.35,0.45],[18.53,0.40],[18.67,0.45],[18.77,0.47],
[19.01,0.49],[19.22,0.50],[19.36,0.62],[19.50,0.89],[19.64,0.95],[19.78,0.82],[19.92,0.69],[20.08,0.75],[20.26,0.79],[20.40,0.85],[20.50,0.99],[20.61,0.85],[20.75,0.69],[20.89,0.55],[21.06,0.54],[21.24,0.62],[21.38,0.82],[21.52,1.05],[21.66,0.89],[21.79,0.75],[22.00,0.75],[22.21,0.69],[22.39,0.72],[22.53,0.85],[22.67,0.72],[22.81,0.62],[22.98,0.60],[23.14,0.59],[23.28,0.72],[23.42,0.95],[23.56,0.92],[23.70,0.79],[23.88,0.62],[24.06,0.49],[24.23,0.40],[24.37,0.39],[24.53,0.40],[24.67,0.47],[24.81,0.49],[24.92,0.42],[25.06,0.34],[25.27,0.30],[25.48,0.26],[25.76,0.22],[26.03,0.19],[26.31,0.14],[26.42,0.15],[26.52,0.32],[26.66,0.45],[26.76,0.49],[26.90,0.42],[27.03,0.40],[27.17,0.49],[27.35,0.59],[27.49,0.70],[27.70,0.70],[27.91,0.69],[28.12,0.68],[28.37,0.69],[28.54,0.65],[28.74,0.59],[28.95,0.50],[29.16,0.45],[29.37,0.44],[29.51,0.69],[29.65,0.85],[29.76,0.92],[29.86,0.85],[29.99,0.72],[30.13,0.55],[30.27,0.49],[30.41,0.47],[30.55,0.62],[30.65,0.69],[30.76,0.65],[30.90,0.64],[31.01,0.55],[31.15,0.42],[31.32,0.35],[31.48,0.30],[31.62,0.39],[31.80,0.55],[31.94,0.69],[32.08,0.89],[32.22,1.05],[32.36,1.12],[32.50,1.22],[32.64,1.12],[32.77,1.05],[32.91,1.02],[33.05,0.89],[33.19,0.79],[33.33,0.82],[33.47,1.25],[33.61,1.45],[33.75,1.54],[33.86,1.49],[33.96,1.22],[34.07,0.95],[34.21,0.69],[34.35,0.49],[34.48,0.42],[34.62,0.65],[34.72,0.55],[34.86,0.52],[35.00,0.37],[35.21,0.34],[35.42,0.29],[35.62,0.49],[35.74,0.62],[35.88,0.49],[36.04,0.40],[36.25,0.37],[36.43,0.35],[36.67,0.27],[36.88,0.25],[37.08,0.29],[37.29,0.29],[37.50,0.30],[37.64,0.45],[37.78,0.59],[37.96,0.75],[38.15,0.77],[38.33,0.69],[38.47,0.89],[38.65,0.90],[38.82,0.85],[38.99,0.75],[39.17,0.67],[39.35,0.59],[39.52,0.52],[39.66,0.69],[39.79,0.89],[39.93,0.75],[40.07,0.59],[40.21,0.42],[40.35,0.35],[40.49,0.42],
[40.56,0.42],[40.70,0.55],[40.84,0.35],[40.97,0.25],[41.11,0.23],[41.25,0.25],[41.41,0.29],[41.52,0.42],[41.66,0.60],[41.77,0.57],[41.90,0.42],[42.07,0.30],[42.21,0.25],[42.32,0.35],[42.41,0.44],[42.55,0.42],[42.75,0.32],[42.96,0.22],[43.14,0.15],[43.27,0.14],[43.37,0.25],[43.51,0.32],[43.68,0.49],[43.82,0.35],[43.98,0.25],[44.15,0.22],[44.26,0.25],[44.42,0.37],[44.60,0.45],[44.81,0.40],[45.01,0.39],[45.22,0.40],[45.42,0.42],[45.56,0.55],[45.70,0.60],[45.83,0.54],[46.01,0.42],[46.18,0.35],[46.38,0.32],[46.56,0.39],[46.70,0.35],[46.89,0.29],[47.07,0.25],[47.24,0.24],[47.41,0.45],[47.54,0.72],[47.68,0.75],[47.82,0.65],[47.98,0.62],[48.16,0.55],[48.34,0.45],[48.43,0.42],[48.53,0.62],[48.64,0.82],[48.75,0.85],[48.85,0.79],[48.98,0.85],[49.16,0.89],[49.30,0.82],[49.43,0.72],[49.60,0.92],[49.71,1.05],[49.82,0.89],[49.94,0.65],[50.08,0.45],[50.21,0.35],[50.35,0.35],[50.49,0.34],[50.62,0.35],[50.76,0.29],[50.94,0.24],[51.10,0.20],[51.31,0.17],[51.52,0.15],[51.72,0.12],[51.90,0.11],[52.04,0.20],[52.20,0.22],[52.40,0.23],[52.54,0.32],[52.72,0.37],[52.88,0.34],[53.09,0.30],[53.29,0.28],[53.50,0.29],[53.70,0.28],[53.91,0.25],[54.12,0.24],[54.32,0.22],[54.46,0.22],[54.53,0.32],[54.69,0.40],[54.87,0.35],[55.07,0.29],[55.28,0.22],[55.42,0.20],[55.55,0.42],[55.69,0.47],[55.87,0.42],[56.06,0.40],[56.24,0.40],[56.38,0.49],[56.55,0.75],[56.72,0.69],[56.92,0.64],[57.10,0.59],[57.26,0.49],[57.43,0.64],[57.57,0.70],[57.70,0.55],[57.84,0.39],[57.98,0.42],[58.11,0.35],[58.25,0.35],[58.39,0.49],[58.52,0.49],[58.66,0.35],[58.84,0.30],[59.04,0.29],[59.25,0.29],[59.39,0.39],[59.52,0.65],[59.62,0.69],[59.73,0.65],[59.87,0.72],[60.00,0.74],[60.11,0.72]
];

// Month labels on the time axis: [day offset, month, year]
const assaluyehMonths = [[15, "November", "2008"], [45.5, "December", "2008"]];
const jaskMonths      = [[14, "February", "2011"], [43.5, "March", "2011"]];
const chabaharMonths  = [[15.5, "January", "2000"], [45.5, "February", "2000"]];

const stations = [
  { name: "Assaluyeh", start: Date.UTC(2008, 9, 17), days: 61, split: 30, yMax: 2.0,
    months: assaluyehMonths, measured: assaluyehMeasured, modeled: assaluyehModeled },
  { name: "Jask", start: Date.UTC(2011, 0, 18), days: 59, split: 28, yMax: 2.2,
    months: jaskMonths, measured: jaskMeasured, modeled: jaskModeled },
  { name: "Chabahar", start: Date.UTC(1999, 11, 17), days: 60, split: 31, yMax: 2.0,
    months: chabaharMonths, measured: chabaharMeasured, modeled: chabaharModeled }
];

// ---- layout ----
const DAY = 864e5;
const frameL = 79.3, frameR = 1737;
const plotL = 82.3, plotR = 1734.3;
const panelBox = [
  { top: 83.3, bottom: 285 },
  { top: 392.3, bottom: 593.7 },
  { top: 701, bottom: 902 }
];

const svg = d3.select("#chart");
svg.append("rect").attr("width", 1741).attr("height", 979).attr("fill", "#fff");

// ---- legend ----
const legend = svg.append("g");
[["Measured", "#000", 22.7, 15.3], ["Modeled", "#ff0000", 40.7, 34]].forEach(([label, color, base, ly]) => {
  legend.append("text").attr("x", 79).attr("y", base).attr("font-size", 16.5).text(label);
  legend.append("text").attr("x", 156).attr("y", base).attr("font-size", 16.5).text("[m]");
  legend.append("line").attr("x1", 191.7).attr("x2", 248.3).attr("y1", ly).attr("y2", ly)
    .attr("stroke", color).attr("stroke-width", 3);
});

stations.forEach((st, i) => {
  const { top, bottom } = panelBox[i];
  const g = svg.append("g").attr("class", "panel");
  const toDate = d => new Date(st.start + d * DAY);

  const x = d3.scaleUtc().domain([toDate(0), toDate(st.days)]).range([plotL, plotR]);
  const y = d3.scaleLinear().domain([0, st.yMax]).range([bottom, top]);

  const clipId = "clip-" + i;
  svg.append("clipPath").attr("id", clipId).append("rect")
    .attr("x", frameL).attr("y", top).attr("width", frameR - frameL).attr("height", bottom - top);

  // daily minor ticks
  const minorX = g.append("g").attr("transform", `translate(0,${bottom})`)
    .call(d3.axisBottom(x).ticks(d3.utcDay.every(1)).tickSize(6).tickFormat(""));
  minorX.select(".domain").remove();
  minorX.selectAll("line").attr("stroke", "#555").attr("stroke-width", 1.3);

  // long ticks at start, calibration split and end
  const majorX = g.append("g").attr("transform", `translate(0,${bottom})`)
    .call(d3.axisBottom(x).tickValues([0, st.split, st.days].map(toDate)).tickSize(17).tickFormat(""));
  majorX.select(".domain").remove();
  majorX.selectAll("line").attr("stroke", "#555").attr("stroke-width", 1.3);

  // month / year labels
  const mg = g.append("g").attr("font-size", 18).attr("text-anchor", "middle");
  st.months.forEach(([d, month, year]) => {
    mg.append("text").attr("x", x(toDate(d))).attr("y", bottom + 31).text(month);
    mg.append("text").attr("x", x(toDate(d))).attr("y", bottom + 52).text(year);
  });

  // y axis: minor ticks every 0.1, labelled ticks every 0.5
  const minorY = g.append("g").attr("transform", `translate(${frameL},0)`)
    .call(d3.axisLeft(y).tickValues(d3.range(0, st.yMax + 1e-6, 0.1)).tickSize(5).tickFormat(""));
  minorY.select(".domain").remove();
  minorY.selectAll("line").attr("stroke", "#555").attr("stroke-width", 1.3);

  const majorY = g.append("g").attr("transform", `translate(${frameL},0)`)
    .call(d3.axisLeft(y).tickValues(d3.range(0, st.yMax + 1e-6, 0.5)).tickSize(9).tickPadding(5)
      .tickFormat(d3.format(".1f")));
  majorY.select(".domain").remove();
  majorY.selectAll("line").attr("stroke", "#555").attr("stroke-width", 1.3);
  majorY.selectAll("text").attr("font-size", 18).attr("fill", "#111")
    .attr("font-family", '"Liberation Sans", Arial, sans-serif');

  // series
  const line = d3.line().x(d => x(toDate(d[0]))).y(d => y(d[1]));
  const lines = g.append("g").attr("clip-path", `url(#${clipId})`)
    .attr("fill", "none").attr("stroke-linejoin", "round").attr("stroke-linecap", "round");
  lines.append("path").datum(st.measured).attr("d", line).attr("stroke", "#000").attr("stroke-width", 3.2);
  lines.append("path").datum(st.modeled).attr("d", line).attr("stroke", "#ff0000").attr("stroke-width", 2.7);

  // frame
  g.append("rect").attr("x", frameL).attr("y", top).attr("width", frameR - frameL).attr("height", bottom - top)
    .attr("fill", "none").attr("stroke", "#111").attr("stroke-width", 1.7);

  // calibration / verification split
  const xs = x(toDate(st.split));
  g.append("line").attr("x1", xs).attr("x2", xs).attr("y1", top + 12).attr("y2", bottom - 7)
    .attr("stroke", "#9fb2f7").attr("stroke-width", 5).attr("opacity", 0.35);
  g.append("line").attr("x1", xs).attr("x2", xs).attr("y1", top + 12).attr("y2", bottom - 7)
    .attr("stroke", "#2f54eb").attr("stroke-width", 2).attr("stroke-dasharray", "8,4");
  const phase = g.append("g").attr("font-size", 20.5);
  phase.append("text").attr("x", xs - 17).attr("y", top + 34.5).attr("text-anchor", "end")
    .style("font-family", '"Open Sans", "Noto Sans", sans-serif').style("fill", "#4d6ef5").text("Calibration");
  phase.append("text").attr("x", xs + 13).attr("y", top + 34.5).attr("text-anchor", "start")
    .style("font-family", '"Open Sans", "Noto Sans", sans-serif').style("fill", "#4d6ef5").text("Verification");

  // titles
  const cx = (frameL + frameR) / 2;
  g.append("text").attr("x", cx).attr("y", top - 8.5).attr("text-anchor", "middle").attr("font-size", 23)
    .text("Station: " + st.name);
  g.append("text").attr("x", cx).attr("y", bottom + 68).attr("text-anchor", "middle").attr("font-size", 18)
    .text("Time [day]");
  g.append("text").attr("transform", `translate(25,${(top + bottom) / 2}) rotate(-90)`)
    .attr("text-anchor", "middle").attr("font-size", 18).text("Significant Wave Height [m]");
});
</script>
</body>
</html>
